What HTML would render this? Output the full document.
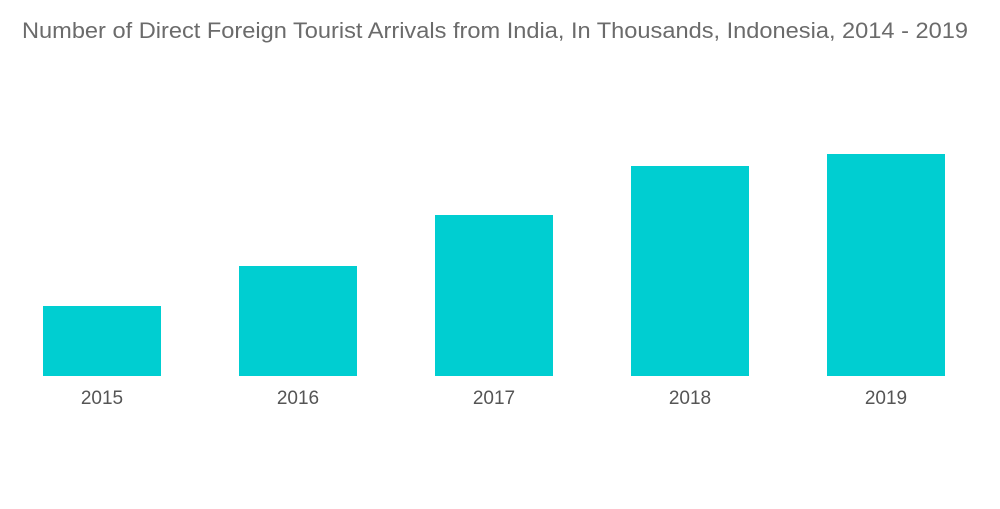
<!DOCTYPE html>
<html><head><meta charset="utf-8"><style>
body{margin:0;background:#fff;width:1000px;height:504px;overflow:hidden;font-family:"Liberation Sans",sans-serif}
</style></head><body>
<svg id="chart" width="1000" height="504">
<text x="22" y="38" font-size="22" fill="#6b6b6b" font-family="Liberation Sans, sans-serif" textLength="946" lengthAdjust="spacingAndGlyphs">Number of Direct Foreign Tourist Arrivals from India, In Thousands, Indonesia, 2014 - 2019</text>
<g id="bars"></g>
</svg>
<script>
const categories = ["2015","2016","2017","2018","2019"];
const values = [70,110,161,210,222];
const baseY = 376, pxPerUnit = 1, x0 = 43, step = 196, barW = 118;
const xScale = i => x0 + i*step;
const yScale = v => baseY - v*pxPerUnit;
const g = document.getElementById('bars');
const NS = 'http://www.w3.org/2000/svg';
categories.forEach((c,i)=>{
  const r = document.createElementNS(NS,'rect');
  r.setAttribute('x', xScale(i));
  r.setAttribute('y', yScale(values[i]));
  r.setAttribute('width', barW);
  r.setAttribute('height', baseY - yScale(values[i]));
  r.setAttribute('fill', '#00ced1');
  
  
  g.appendChild(r);
  const t = document.createElementNS(NS,'text');
  t.setAttribute('x', xScale(i) + barW/2);
  t.setAttribute('y', 404);
  t.setAttribute('text-anchor', 'middle');
  t.setAttribute('font-size', '19');
  t.setAttribute('fill', '#555');
  t.textContent = c;
  
  
  g.appendChild(t);
});
</script>
</body></html>
